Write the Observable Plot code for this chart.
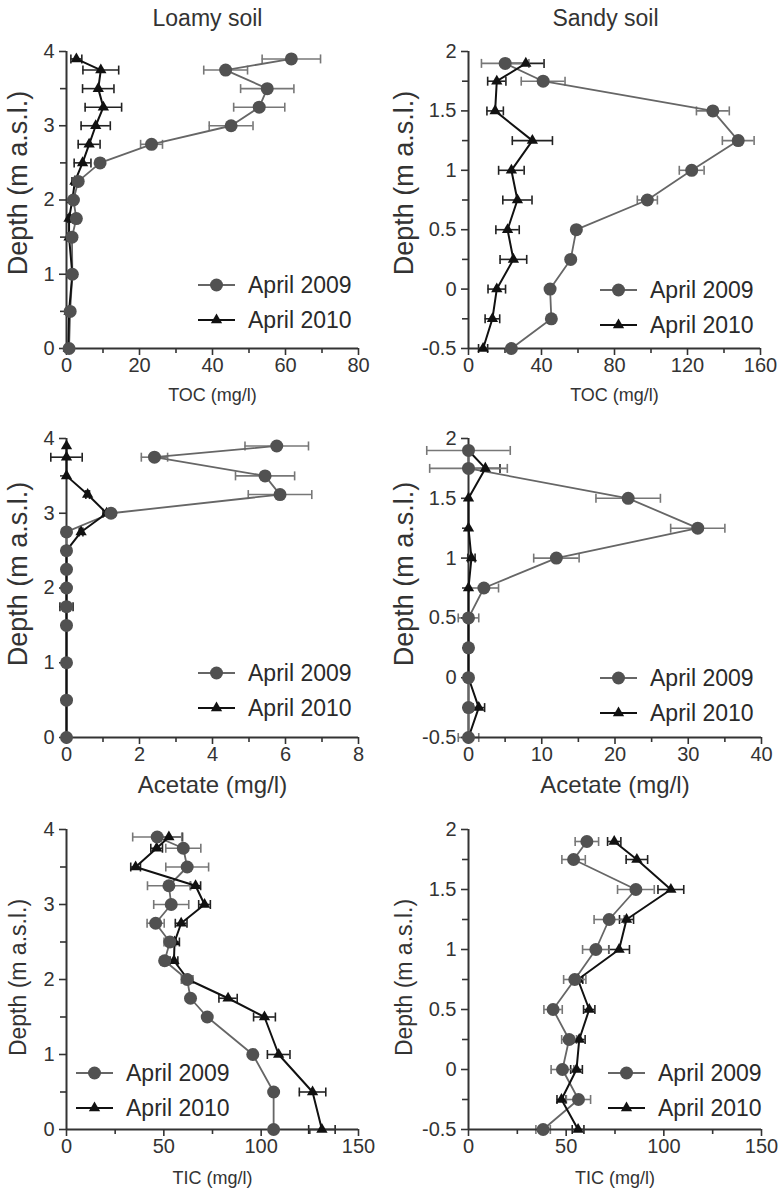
<!DOCTYPE html>
<html><head><meta charset="utf-8">
<script src="https://cdn.jsdelivr.net/npm/d3@7"></script>
<script src="https://cdn.jsdelivr.net/npm/@observablehq/plot@0.6"></script>
<style>
body{margin:0;background:#fff;}
#root{position:relative;width:779px;height:1191px;overflow:hidden;background:#fff;}
#root svg{position:absolute;overflow:visible;}
</style></head><body><div id="root"></div>
<script>
// ---------- data ----------
const seriesNames = ["April 2009", "April 2010"];
const titles = ["Loamy soil", "Sandy soil"];
const yLabel = "Depth (m a.s.l.)";
const xLabels = ["TOC (mg/l)", "Acetate (mg/l)", "TIC (mg/l)"];

const loamyDepth = [3.9, 3.75, 3.5, 3.25, 3.0, 2.75, 2.5, 2.25, 2.0, 1.75, 1.5, 1.0, 0.5, 0];
const sandyDepth = [1.9, 1.75, 1.5, 1.25, 1.0, 0.75, 0.5, 0.25, 0, -0.25, -0.5];

// Loamy TOC
const loamyToc2009 = [61.6, 43.6, 55.0, 52.8, 45.1, 23.3, 9.2, 3.2, 1.9, 2.7, 1.5, 1.6, 1.0, 0.7];
const loamyToc2009Err = [8, 6, 7.3, 7, 6, 3, 1, 0.8, 0.6, 0.6, 0.5, 0.5, 0.3, 0.3];
const loamyToc2010 = [2.7, 9.4, 8.7, 10.1, 8.0, 6.2, 4.4, 2.3, 1.6, 0.7, 0.7, 1.6, 0.7, 0.5];
const loamyToc2010Err = [1.5, 4.9, 4.3, 5, 4, 3, 2.3, 0.8, 0.5, 0.5, 0.5, 0.8, 0.3, 0.3];
// Sandy TOC
const sandyToc2009 = [20.1, 40.9, 133.9, 147.8, 122.3, 98.0, 59.1, 56.0, 44.7, 45.4, 23.5];
const sandyToc2009Err = [13, 12, 9, 8.7, 6.8, 5.5, 2, 1, 1, 1, 1];
const sandyToc2010 = [31.4, 15.5, 14.6, 35.0, 23.5, 26.8, 21.4, 24.6, 15.5, 13.1, 8.0];
const sandyToc2010Err = [10, 5, 4.5, 11, 7, 8, 6.4, 7.3, 4.8, 4, 2.5];
// Loamy acetate
const loamyAc2009 = [5.76, 2.41, 5.44, 5.85, 1.22, 0, 0, 0, 0, 0, 0, 0, 0, 0];
const loamyAc2009Err = [0.87, 0.36, 0.81, 0.87, 0.1, 0, 0, 0, 0, 0, 0, 0, 0, 0];
const loamyAc2010 = [0, 0, 0, 0.58, 1.1, 0.4, 0, 0, 0, 0, 0, 0, 0, 0];
const loamyAc2010Err = [0, 0.43, 0, 0.05, 0.1, 0.05, 0, 0, 0, 0.18, 0, 0, 0, 0];
// Sandy acetate
const sandyAc2009 = [0, 0, 21.8, 31.3, 12.0, 2.1, 0, 0, 0, 0, 0];
const sandyAc2009Err = [5.7, 5.3, 4.4, 3.7, 3.1, 2, 1.4, 0.3, 0.3, 0.5, 1.4];
const sandyAc2010 = [0, 2.3, 0, 0, 0.4, 0, 0, 0, 0, 1.4, 0];
const sandyAc2010Err = [0, 2, 0, 0, 0.5, 0, 0.3, 0, 0, 0.8, 0];
// Loamy TIC
const loamyTic2009 = [46.6, 60.0, 62.0, 52.6, 53.8, 45.8, 53.1, 50.4, 62.0, 63.7, 72.3, 95.7, 106.4, 106.4];
const loamyTic2009Err = [12.6, 9, 11, 11, 9, 4.4, 3, 2, 3, 1.5, 1.5, 1.5, 1.5, 1.5];
const loamyTic2010 = [52.6, 46.3, 35.5, 66.3, 70.9, 58.9, 55.5, 55.2, 62.4, 83.0, 101.7, 109.0, 126.4, 131.2];
const loamyTic2010Err = [7, 3, 2.5, 2.6, 3, 3, 2.5, 2, 2, 4.7, 5.6, 5.8, 6.8, 6.8];
// Sandy TIC
const sandyTic2009 = [60.6, 53.8, 85.7, 72.0, 65.2, 54.4, 43.3, 51.5, 48.1, 56.3, 38.2];
const sandyTic2009Err = [6, 6, 9.4, 7.7, 6.8, 5.7, 4.7, 3.8, 5.8, 6.2, 3.7];
const sandyTic2010 = [74.6, 86.2, 103.6, 80.9, 77.1, 56.0, 61.8, 56.7, 55.3, 47.6, 56.1];
const sandyTic2010Err = [3.4, 5.5, 6.6, 3.6, 5.3, 2.5, 2.9, 3, 3, 2.3, 3];

// axis ticks
const loamyYTicks = [0, 1, 2, 3, 4], loamyYMinor = [0.5, 1.5, 2.5, 3.5];
const sandyYTicks = [-0.5, 0, 0.5, 1, 1.5, 2], sandyYMinor = [-0.25, 0.25, 0.75, 1.25, 1.75];

// ---------- layout ----------
const C2009 = {fill: "#515151", line: "#666", err: "#777"};
const C2010 = {fill: "#111", line: "#111", err: "#222"};

function rows(depth, v, e) { return depth.map((d, i) => ({d, v: v[i], e: e[i]})); }

const panels = [
  {left: 0, top: 0, w: 390, h: 405, mt: 51, mb: 57, ml: 66, mr: 32, depth: loamyDepth,
   a: [loamyToc2009, loamyToc2009Err], b: [loamyToc2010, loamyToc2010Err],
   xDomain: [0, 80], xTicks: [0, 20, 40, 60, 80], xMinor: [10, 30, 50, 70],
   yDomain: [0, 4], yTicks: loamyYTicks, yMinor: loamyYMinor,
   xLabel: xLabels[0], xLabelSize: 18, xLabelDy: 47, yLabelSize: 27, yLabelDy: -17, yLabelDx: -48,
   title: titles[0], titleDx: -5, legend: {x: 198, y: 285}},
  {left: 390, top: 0, w: 389, h: 405, mt: 51, mb: 57, ml: 78, mr: 19, depth: sandyDepth,
   a: [sandyToc2009, sandyToc2009Err], b: [sandyToc2010, sandyToc2010Err],
   xDomain: [0, 160], xTicks: [0, 40, 80, 120, 160], xMinor: [20, 60, 100, 140],
   yDomain: [-0.5, 2], yTicks: sandyYTicks, yMinor: sandyYMinor,
   xLabel: xLabels[0], xLabelSize: 18, xLabelDy: 47, yLabelSize: 27, yLabelDy: -17, yLabelDx: -64,
   title: titles[1], titleDx: -9, legend: {x: 210, y: 290}},
  {left: 0, top: 390, w: 390, h: 405, mt: 48, mb: 58, ml: 66, mr: 32, depth: loamyDepth,
   a: [loamyAc2009, loamyAc2009Err], b: [loamyAc2010, loamyAc2010Err],
   xDomain: [0, 8], xTicks: [0, 2, 4, 6, 8], xMinor: [1, 3, 5, 7],
   yDomain: [0, 4], yTicks: loamyYTicks, yMinor: loamyYMinor,
   xLabel: xLabels[1], xLabelSize: 24, xLabelDy: 48, yLabelSize: 27, yLabelDy: -14, yLabelDx: -48,
   legend: {x: 198, y: 283}},
  {left: 390, top: 390, w: 389, h: 405, mt: 48, mb: 58, ml: 78, mr: 18, depth: sandyDepth,
   a: [sandyAc2009, sandyAc2009Err], b: [sandyAc2010, sandyAc2010Err],
   xDomain: [0, 40], xTicks: [0, 10, 20, 30, 40], xMinor: [5, 15, 25, 35],
   yDomain: [-0.5, 2], yTicks: sandyYTicks, yMinor: sandyYMinor,
   xLabel: xLabels[1], xLabelSize: 24, xLabelDy: 48, yLabelSize: 27, yLabelDy: -14, yLabelDx: -64,
   legend: {x: 210, y: 288}},
  {left: 0, top: 790, w: 390, h: 401, mt: 39, mb: 62, ml: 66, mr: 32, depth: loamyDepth,
   a: [loamyTic2009, loamyTic2009Err], b: [loamyTic2010, loamyTic2010Err],
   xDomain: [0, 150], xTicks: [0, 50, 100, 150], xMinor: [25, 75, 125],
   yDomain: [0, 4], yTicks: loamyYTicks, yMinor: loamyYMinor,
   xLabel: xLabels[2], xLabelSize: 18, xLabelDy: 49, yLabelSize: 23, yLabelDy: -2, yLabelDx: -48,
   legend: {x: 76, y: 283}},
  {left: 390, top: 790, w: 389, h: 401, mt: 39, mb: 62, ml: 78, mr: 18, depth: sandyDepth,
   a: [sandyTic2009, sandyTic2009Err], b: [sandyTic2010, sandyTic2010Err],
   xDomain: [0, 150], xTicks: [0, 50, 100, 150], xMinor: [25, 75, 125],
   yDomain: [-0.5, 2], yTicks: sandyYTicks, yMinor: sandyYMinor,
   xLabel: xLabels[2], xLabelSize: 18, xLabelDy: 49, yLabelSize: 23, yLabelDy: -2, yLabelDx: -64,
   legend: {x: 218, y: 283}}
];

const vbar = {draw(ctx, size) { const r = Math.sqrt(size / Math.PI); ctx.moveTo(0, -r); ctx.lineTo(0, r); }};
const fmt = d => String(d);

function seriesMarks(data, c, isTri) {
  const withErr = data.filter(d => d.e > 0);
  const caps = withErr.flatMap(d => [{d: d.d, x: d.v - d.e}, {d: d.d, x: d.v + d.e}]);
  return {
    err: [
      Plot.ruleY(withErr, {y: "d", x1: d => d.v - d.e, x2: d => d.v + d.e, stroke: c.err, strokeWidth: 1.6}),
      Plot.dot(caps, {x: "x", y: "d", symbol: vbar, r: 4.5, stroke: c.err, strokeWidth: 1.6, fill: "none"})
    ],
    line: Plot.line(data, {x: "v", y: "d", stroke: c.line, strokeWidth: isTri ? 2 : 1.8}),
    dots: isTri
      ? Plot.dot(data, {x: "v", y: "d", symbol: "triangle", r: 4.2, fill: c.fill, stroke: "none"})
      : Plot.dot(data, {x: "v", y: "d", r: 6.5, fill: c.fill, stroke: "none"})
  };
}

const root = document.getElementById("root");
panels.forEach(p => {
  const A = rows(p.depth, p.a[0], p.a[1]);
  const B = rows(p.depth, p.b[0], p.b[1]);
  const sa = seriesMarks(A, C2009, false);
  const sb = seriesMarks(B, C2010, true);
  const marks = [
    ...sb.err, ...sa.err,
    Plot.ruleY([p.yDomain[0]], {stroke: "#333", strokeWidth: 2}),
    Plot.ruleX([p.xDomain[0]], {stroke: "#333", strokeWidth: 2}),
    Plot.axisX({ticks: p.xTicks, tickFormat: fmt, tickSize: 7, tickPadding: 2, fontSize: 20, label: null, stroke: "#333", strokeWidth: 1.6, fill: "#333"}),
    Plot.axisX({ticks: p.xMinor, tickSize: 5, tickFormat: () => "", label: null, stroke: "#333", strokeWidth: 1.6}),
    Plot.axisY({ticks: p.yTicks, tickFormat: fmt, tickSize: 7, tickPadding: 5, fontSize: 20, label: null, stroke: "#333", strokeWidth: 1.6, fill: "#333"}),
    Plot.axisY({ticks: p.yMinor, tickSize: 6, tickFormat: () => "", label: null, stroke: "#333", strokeWidth: 1.6}),
    sa.line, sb.line, sb.dots, sa.dots,
    Plot.text([p.xLabel], {frameAnchor: "bottom", dy: p.xLabelDy, lineAnchor: "middle", textAnchor: "middle", fontSize: p.xLabelSize, fill: "#333"}),
    Plot.text([yLabel], {frameAnchor: "left", dx: p.yLabelDx, dy: p.yLabelDy, rotate: -90, lineAnchor: "middle", textAnchor: "middle", fontSize: p.yLabelSize, fill: "#333"})
  ];
  if (p.title) marks.push(Plot.text([p.title], {frameAnchor: "top", dy: -33, dx: p.titleDx, lineAnchor: "middle", textAnchor: "middle", fontSize: 23, fill: "#333"}));
  const svg = Plot.plot({
    width: p.w, height: p.h,
    marginTop: p.mt, marginBottom: p.mb, marginLeft: p.ml, marginRight: p.mr,
    x: {domain: p.xDomain},
    y: {domain: p.yDomain},
    style: {fontFamily: "'Liberation Sans', Arial, sans-serif", fontSize: "20px", color: "#333", background: "transparent", overflow: "visible"},
    marks
  });
  svg.style.left = p.left + "px";
  svg.style.top = p.top + "px";
  // legend
  const g = d3.select(svg).append("g")
    .attr("font-family", "'Liberation Sans', Arial, sans-serif")
    .attr("font-size", 23).attr("fill", "#2a2a2a").attr("text-anchor", "start");
  [[C2009, false], [C2010, true]].forEach(([c, tri], i) => {
    const y = p.legend.y + i * 35, x = p.legend.x;
    g.append("line").attr("x1", x).attr("x2", x + 37).attr("y1", y).attr("y2", y).attr("stroke", c.line).attr("stroke-width", 2);
    if (tri) g.append("path").attr("d", d3.symbol(d3.symbolTriangle, Math.PI * 4.2 * 4.2)()).attr("transform", `translate(${x + 18.5},${y})`).attr("fill", c.fill);
    else g.append("circle").attr("cx", x + 18.5).attr("cy", y).attr("r", 6.5).attr("fill", c.fill);
    g.append("text").attr("x", x + 50).attr("y", y).attr("dy", "0.35em").attr("text-anchor", "start").text(seriesNames[i]);
  });
  root.appendChild(svg);
});
</script>
</body></html>
